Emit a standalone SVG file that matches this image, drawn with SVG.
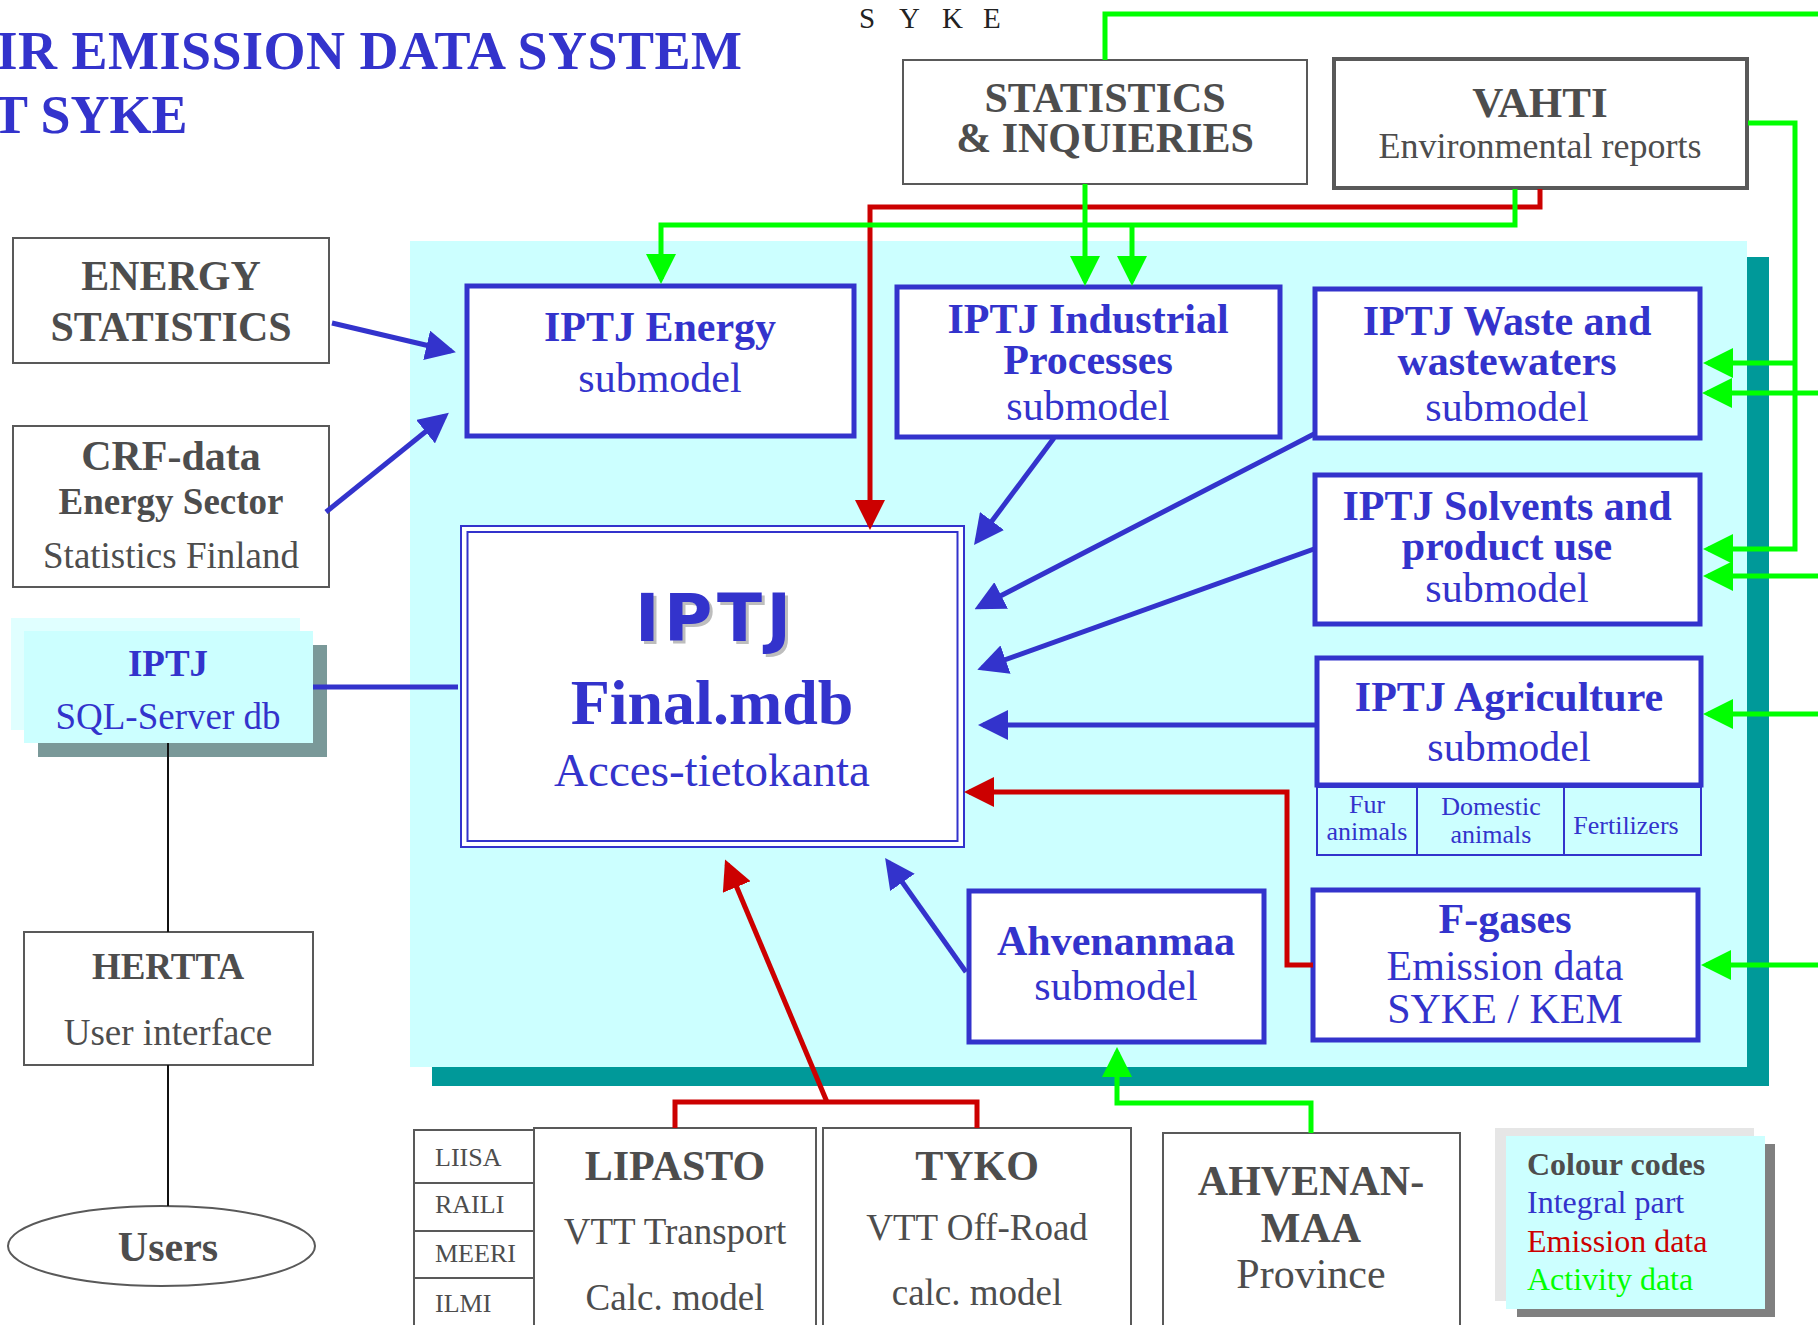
<svg xmlns="http://www.w3.org/2000/svg" width="1818" height="1325" viewBox="0 0 1818 1325">
<defs>
<style>
text{font-family:"Liberation Serif","Times New Roman",serif}
.m{text-anchor:middle}
.bd{font-weight:bold}
.gy{fill:#4d4d4d}
.bl{fill:#3333cc}
.gbox{fill:#fff;stroke:#595959;stroke-width:2}
.bbox{fill:#fff;stroke:#3333cc;stroke-width:5}
.thin{fill:none;stroke:#3333cc;stroke-width:2}
.f42{font-size:42px}
.f37{font-size:37px}
.f26{font-size:26px}
.f32{font-size:32px}
.comic{font-family:"DejaVu Sans","Noto Sans",sans-serif;font-weight:bold;font-size:66px}
.cb{fill:none;stroke:#3333cc;stroke-width:5}
.cr{fill:none;stroke:#cc0000;stroke-width:5}
.cg{fill:none;stroke:#00ff00;stroke-width:5}
.ck{fill:none;stroke:#111;stroke-width:2}
</style>
<marker id="ab" viewBox="0 0 30 30" refX="25" refY="15" markerWidth="30" markerHeight="30" markerUnits="userSpaceOnUse" orient="auto"><path d="M0,0 L30,15 L0,30 z" fill="#3333cc"/></marker>
<marker id="ar" viewBox="0 0 30 30" refX="25" refY="15" markerWidth="30" markerHeight="30" markerUnits="userSpaceOnUse" orient="auto"><path d="M0,0 L30,15 L0,30 z" fill="#cc0000"/></marker>
<marker id="ag" viewBox="0 0 30 30" refX="25" refY="15" markerWidth="30" markerHeight="30" markerUnits="userSpaceOnUse" orient="auto"><path d="M0,0 L30,15 L0,30 z" fill="#00ff00"/></marker>
</defs>
<rect width="1818" height="1325" fill="#fff"/>

<g id="title">
<text x="-43" y="69" class="bd bl" font-size="54" textLength="785">AIR EMISSION DATA SYSTEM</text>
<text x="-43" y="133" class="bd bl" font-size="54">AT SYKE</text>
<text x="859 899 942 983" y="28" font-size="29" fill="#222">SYKE</text>
</g>

<g id="panel">
<rect x="432" y="257" width="1337" height="829" fill="#009999"/>
<rect x="410" y="241" width="1337" height="826" fill="#ccffff"/>
</g>

<g id="statistics">
<rect class="gbox" x="903" y="60" width="404" height="124"/>
<text x="1105" y="112" class="m bd gy f42">STATISTICS</text>
<text x="1105" y="152" class="m bd gy f42">&amp; INQUIERIES</text>
</g>
<g id="vahti">
<rect x="1334" y="59" width="413" height="129" fill="#fff" stroke="#595959" stroke-width="4"/>
<text x="1540" y="117" class="m bd gy" font-size="43">VAHTI</text>
<text x="1540" y="158" class="m gy" font-size="36">Environmental reports</text>
</g>
<g id="energy-stats">
<rect class="gbox" x="13" y="238" width="316" height="125"/>
<text x="171" y="290" class="m bd gy f42">ENERGY</text>
<text x="171" y="341" class="m bd gy f42">STATISTICS</text>
</g>
<g id="crf">
<rect class="gbox" x="13" y="426" width="316" height="161"/>
<text x="171" y="470" class="m bd gy f42">CRF-data</text>
<text x="171" y="514" class="m bd gy f37">Energy Sector</text>
<text x="171" y="568" class="m gy f37">Statistics Finland</text>
</g>
<g id="sql">
<rect x="11" y="618" width="289" height="112" fill="#e0ffff"/>
<rect x="38" y="645" width="289" height="112" fill="#7a9999"/>
<rect x="24" y="631" width="289" height="112" fill="#ccffff"/>
<text x="168" y="676" class="m bd bl f37">IPTJ</text>
<text x="168" y="729" class="m bl f37">SQL-Server db</text>
</g>
<g id="hertta">
<rect class="gbox" x="24" y="932" width="289" height="133"/>
<text x="168" y="979" class="m bd gy f37">HERTTA</text>
<text x="168" y="1045" class="m gy f37">User interface</text>
</g>
<g id="users">
<ellipse cx="161.5" cy="1246" rx="153.5" ry="40" fill="#fff" stroke="#595959" stroke-width="2"/>
<text x="168" y="1261" class="m bd gy f42">Users</text>
</g>

<g id="iptj-energy">
<rect class="bbox" x="467" y="286" width="387" height="150"/>
<text x="660" y="341" class="m bd bl f42">IPTJ Energy</text>
<text x="660" y="392" class="m bl f42">submodel</text>
</g>
<g id="iptj-industrial">
<rect class="bbox" x="897" y="287" width="383" height="150"/>
<text x="1088" y="333" class="m bd bl f42">IPTJ Industrial</text>
<text x="1088" y="374" class="m bd bl f42">Processes</text>
<text x="1088" y="420" class="m bl f42">submodel</text>
</g>
<g id="iptj-waste">
<rect class="bbox" x="1315" y="289" width="385" height="149"/>
<text x="1507" y="335" class="m bd bl f42">IPTJ Waste and</text>
<text x="1507" y="375" class="m bd bl f42">wastewaters</text>
<text x="1507" y="421" class="m bl f42">submodel</text>
</g>
<g id="iptj-solvents">
<rect class="bbox" x="1315" y="475" width="385" height="149"/>
<text x="1507" y="520" class="m bd bl f42">IPTJ Solvents and</text>
<text x="1507" y="560" class="m bd bl f42">product use</text>
<text x="1507" y="602" class="m bl f42">submodel</text>
</g>
<g id="iptj-agriculture">
<rect class="bbox" x="1317" y="658" width="384" height="127"/>
<text x="1509" y="711" class="m bd bl f42">IPTJ Agriculture</text>
<text x="1509" y="761" class="m bl f42">submodel</text>
<rect class="thin" x="1317" y="787" width="384" height="68"/>
<path class="thin" d="M1417,787 V855 M1564,787 V855"/>
<text x="1367" y="813" class="m bl f26">Fur</text>
<text x="1367" y="840" class="m bl f26">animals</text>
<text x="1491" y="815" class="m bl f26">Domestic</text>
<text x="1491" y="843" class="m bl f26">animals</text>
<text x="1626" y="834" class="m bl f26">Fertilizers</text>
</g>
<g id="iptj-final">
<rect x="461" y="526" width="503" height="321" fill="#fff" stroke="#3333cc" stroke-width="2"/>
<rect x="467.5" y="532" width="490" height="309" fill="none" stroke="#3333cc" stroke-width="2"/>
<text x="716" y="644" class="m comic" fill="#bdbdbd" textLength="156">IPTJ</text>
<text x="713" y="641" class="m comic" fill="#3333cc" textLength="156">IPTJ</text>
<text x="712" y="724" class="m bd bl" font-size="64">Final.mdb</text>
<text x="712" y="786" class="m bl" font-size="47">Acces-tietokanta</text>
</g>
<g id="ahvenanmaa-sub">
<rect class="bbox" x="969" y="891" width="295" height="151"/>
<text x="1116" y="955" class="m bd bl f42">Ahvenanmaa</text>
<text x="1116" y="1000" class="m bl f42">submodel</text>
</g>
<g id="fgases">
<rect class="bbox" x="1313" y="890" width="385" height="150"/>
<text x="1505" y="933" class="m bd bl f42">F-gases</text>
<text x="1505" y="980" class="m bl f42">Emission data</text>
<text x="1505" y="1023" class="m bl f42">SYKE / KEM</text>
</g>

<g id="liisa">
<rect class="gbox" x="414" y="1130" width="120" height="220"/>
<path d="M414,1183 H534 M414,1231 H534 M414,1278 H534" stroke="#595959" stroke-width="2"/>
<text x="435" y="1166" class="gy f26">LIISA</text>
<text x="435" y="1213" class="gy f26">RAILI</text>
<text x="435" y="1262" class="gy f26">MEERI</text>
<text x="435" y="1312" class="gy f26">ILMI</text>
</g>
<g id="lipasto">
<rect class="gbox" x="534" y="1128" width="282" height="220"/>
<text x="675" y="1180" class="m bd gy f42">LIPASTO</text>
<text x="675" y="1244" class="m gy f37">VTT Transport</text>
<text x="675" y="1310" class="m gy f37">Calc. model</text>
</g>
<g id="tyko">
<rect class="gbox" x="823" y="1128" width="308" height="220"/>
<text x="977" y="1180" class="m bd gy f42">TYKO</text>
<text x="977" y="1240" class="m gy f37">VTT Off-Road</text>
<text x="977" y="1305" class="m gy f37">calc. model</text>
</g>
<g id="ahvenanmaa">
<rect class="gbox" x="1163" y="1133" width="297" height="220"/>
<text x="1311" y="1195" class="m bd gy f42">AHVENAN-</text>
<text x="1311" y="1242" class="m bd gy f42">MAA</text>
<text x="1311" y="1288" class="m gy f42">Province</text>
</g>
<g id="legend">
<rect x="1495" y="1128" width="259" height="173" fill="#e6e6e6"/>
<rect x="1517" y="1144" width="258" height="173" fill="#808080"/>
<rect x="1506" y="1136" width="259" height="173" fill="#ccffff"/>
<text x="1527" y="1175" class="bd gy f32">Colour codes</text>
<text x="1527" y="1213" class="f32" fill="#3333cc">Integral part</text>
<text x="1527" y="1252" class="f32" fill="#cc0000">Emission data</text>
<text x="1527" y="1290" class="f32" fill="#00ff00">Activity data</text>
</g>

<g id="connectors">
<path class="ck" d="M168,743 V932 M168,1065 V1206"/>
<path class="cb" d="M313,687 H458"/>
<path class="cb" d="M332,323 L451,351" marker-end="url(#ab)"/>
<path class="cb" d="M326,512 L445,416" marker-end="url(#ab)"/>
<path class="cb" d="M1054,438 L977,541" marker-end="url(#ab)"/>
<path class="cb" d="M1314,434 L979,607" marker-end="url(#ab)"/>
<path class="cb" d="M1314,549 L982,668" marker-end="url(#ab)"/>
<path class="cb" d="M1315,725 H983" marker-end="url(#ab)"/>
<path class="cb" d="M966,972 L888,862" marker-end="url(#ab)"/>
<path class="cr" d="M1540,189 V207 H870 V525" marker-end="url(#ar)"/>
<path class="cr" d="M1313,965 H1287 V792 H969" marker-end="url(#ar)"/>
<path class="cr" d="M675,1128 V1102 H977 V1128"/>
<path class="cr" d="M827,1102 L727,864" marker-end="url(#ar)"/>
<path class="cg" d="M1105,60 V14 H1818"/>
<path class="cg" d="M1085,184 V281" marker-end="url(#ag)"/>
<path class="cg" d="M1515,189 V225 H661 V279" marker-end="url(#ag)"/>
<path class="cg" d="M1132,225 V281" marker-end="url(#ag)"/>
<path class="cg" d="M1748,123 H1795 V549 H1708" marker-end="url(#ag)"/>
<path class="cg" d="M1795,363 H1708" marker-end="url(#ag)"/>
<path class="cg" d="M1818,393 H1707" marker-end="url(#ag)"/>
<path class="cg" d="M1818,576 H1708" marker-end="url(#ag)"/>
<path class="cg" d="M1818,714 H1708" marker-end="url(#ag)"/>
<path class="cg" d="M1818,965 H1706" marker-end="url(#ag)"/>
<path class="cg" d="M1311,1133 V1103 H1117 V1052" marker-end="url(#ag)"/>
</g>
</svg>
